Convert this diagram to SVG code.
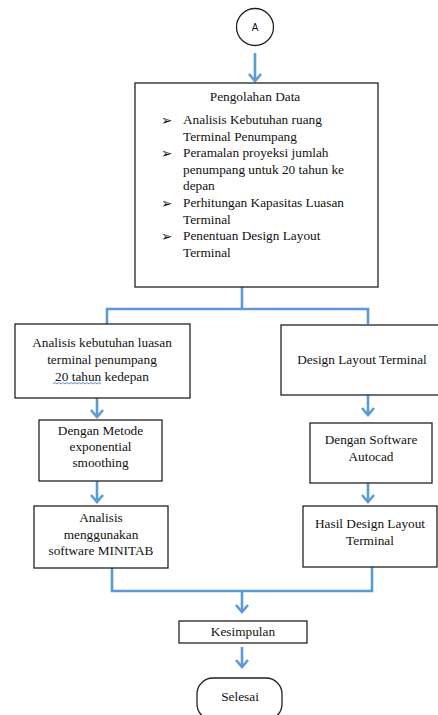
<svg xmlns="http://www.w3.org/2000/svg" width="438" height="715" viewBox="0 0 438 715">
<defs>
<style>
.box{fill:#fff;stroke:#222;stroke-width:1.3}
.t{font-family:"Liberation Serif","Times New Roman",serif;font-size:13.3px;fill:#111;text-anchor:middle}
.tl{font-family:"Liberation Serif","Times New Roman",serif;font-size:13.3px;fill:#111}
.b{font-family:"DejaVu Sans",sans-serif;font-size:13.5px;fill:#111}
.c{fill:none;stroke:#5B9BD5;stroke-width:2.6}
.ca{fill:none;stroke:#5B9BD5;stroke-width:2.6;marker-end:url(#ah)}
</style>
<marker id="ah" markerUnits="userSpaceOnUse" viewBox="-10 -10 20 20" refX="0" refY="0" markerWidth="20" markerHeight="20" orient="auto" overflow="visible">
<path d="M-7,-6 L0,0 L-7,6" fill="none" stroke="#5B9BD5" stroke-width="2.6" stroke-linejoin="miter"/>
</marker>
</defs>
<rect width="438" height="715" fill="#fff"/>

<g id="connectors">
<line class="ca" x1="255" y1="53" x2="255" y2="81"/>
<polyline class="c" points="242,287 242,309"/>
<polyline class="c" points="107,324 107,309 368,309 368,324"/>
<line class="ca" x1="97" y1="398" x2="97" y2="417"/>
<line class="ca" x1="97" y1="481" x2="97" y2="502"/>
<line class="ca" x1="368" y1="395" x2="368" y2="415"/>
<line class="ca" x1="368" y1="483" x2="368" y2="502"/>
<polyline class="c" points="112,568 112,591 372,591 372,567"/>
<line class="ca" x1="242" y1="591" x2="242" y2="612"/>
<line class="ca" x1="242" y1="647" x2="242" y2="667"/>
</g>

<g id="nodeA">
<circle cx="255" cy="27" r="18.5" fill="#fff" stroke="#222" stroke-width="1.3"/>
<text x="255" y="31" font-family="Liberation Sans, Arial, sans-serif" font-size="10" text-anchor="middle" fill="#111">A</text>
</g>

<g id="pengolahan">
<rect class="box" x="135" y="83" width="243" height="204"/>
<text class="t" x="255" y="101">Pengolahan Data</text>
<text class="b" x="161" y="125">➢</text>
<text class="tl" x="183" y="124">Analisis Kebutuhan ruang</text>
<text class="tl" x="183" y="140.6">Terminal Penumpang</text>
<text class="b" x="161" y="158.2">➢</text>
<text class="tl" x="183" y="157.2">Peramalan proyeksi jumlah</text>
<text class="tl" x="183" y="173.8">penumpang untuk 20 tahun ke</text>
<text class="tl" x="183" y="190.4">depan</text>
<text class="b" x="161" y="208">➢</text>
<text class="tl" x="183" y="207">Perhitungan Kapasitas Luasan</text>
<text class="tl" x="183" y="223.6">Terminal</text>
<text class="b" x="161" y="241.2">➢</text>
<text class="tl" x="183" y="240.2">Penentuan Design Layout</text>
<text class="tl" x="183" y="256.8">Terminal</text>
</g>

<g id="analisis-kebutuhan">
<rect class="box" x="15" y="324" width="175" height="74"/>
<text class="t" x="102" y="347">Analisis kebutuhan luasan</text>
<text class="t" x="102" y="364">terminal penumpang</text>
<text class="t" x="102" y="381">20 tahun kedepan</text>
<path d="M53,384 l2,-1.5 l2,1.5 l2,-1.5 l2,1.5 l2,-1.5 l2,1.5 l2,-1.5 l2,1.5 l2,-1.5 l2,1.5 l2,-1.5 l2,1.5 l2,-1.5 l2,1.5 l2,-1.5 l2,1.5 l2,-1.5 l2,1.5 l2,-1.5 l2,1.5 l2,-1.5 l2,1.5 l2,-1.5 l2,1.5" fill="none" stroke="#3B6FD0" stroke-width="0.8"/>
</g>

<g id="metode">
<rect class="box" x="39" y="420" width="123" height="61"/>
<text class="t" x="100.5" y="435">Dengan Metode</text>
<text class="t" x="100.5" y="451">exponential</text>
<text class="t" x="100.5" y="467">smoothing</text>
</g>

<g id="minitab">
<rect class="box" x="34" y="506" width="134" height="62"/>
<text class="t" x="101" y="522">Analisis</text>
<text class="t" x="101" y="538.5">menggunakan</text>
<text class="t" x="101" y="555">software MINITAB</text>
</g>

<g id="design">
<rect class="box" x="281" y="325" width="162" height="70"/>
<text class="t" x="362" y="364">Design Layout Terminal</text>
</g>

<g id="autocad">
<rect class="box" x="310" y="423" width="122" height="60"/>
<text class="t" x="371" y="444">Dengan Software</text>
<text class="t" x="371" y="461">Autocad</text>
</g>

<g id="hasil">
<rect class="box" x="303" y="506" width="134" height="61"/>
<text class="t" x="370" y="528">Hasil Design Layout</text>
<text class="t" x="370" y="545">Terminal</text>
</g>

<g id="kesimpulan">
<rect class="box" x="179" y="621" width="128" height="22"/>
<text class="t" x="243" y="636">Kesimpulan</text>
</g>

<g id="selesai">
<rect class="box" x="197" y="678" width="85" height="42" rx="16" ry="16"/>
<text class="t" x="240" y="701">Selesai</text>
</g>
</svg>
